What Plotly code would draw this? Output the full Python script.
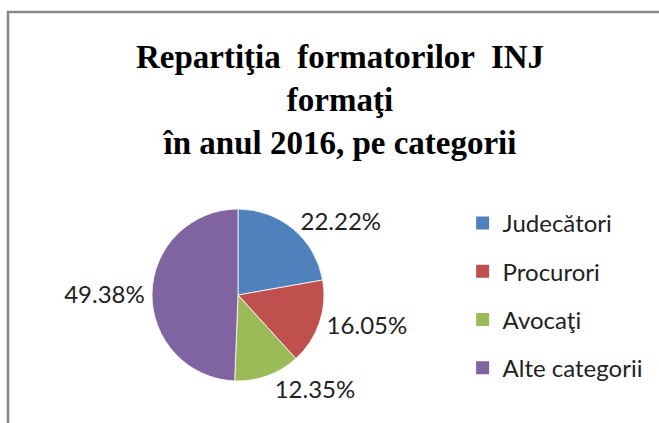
import plotly.graph_objects as go

# Data
categories = ['Judecători', 'Procurori', 'Avocaţi', 'Alte categorii']
shares = [22.22, 16.05, 12.35, 49.38]
colors = ['#4F81BD', '#C0504D', '#9BBB59', '#8064A2']

title_text = 'Repartiţia  formatorilor  INJ<br>formaţi<br>în anul 2016, pe categorii'

fig = go.Figure()

fig.add_trace(go.Pie(
    labels=categories,
    values=shares,
    sort=False,
    direction='clockwise',
    rotation=0,
    marker=dict(colors=colors, line=dict(color='white', width=0.8)),
    textposition='outside',
    texttemplate='%{percent:.2%}',
    textfont=dict(family='Lato', size=24, color='#222222'),
    domain=dict(x=[152 / 659, 324 / 659], y=[1 - 381 / 423, 1 - 209 / 423]),
    showlegend=False,
    hoverinfo='label+percent',
))

# legend entries (one per category so the rows can be spaced out)
for name, col in zip(categories, colors):
    fig.add_trace(go.Scatter(
        x=[None], y=[None], mode='markers', name=name, legendgroup=name,
        marker=dict(symbol='square', size=13, color=col),
    ))

fig.update_layout(
    width=659, height=423,
    margin=dict(l=0, r=0, t=0, b=0),
    paper_bgcolor='white', plot_bgcolor='white',
    xaxis=dict(visible=False), yaxis=dict(visible=False),
    title=dict(
        text=title_text, x=340 / 659, xanchor='center',
        y=1 - 68 / 423, yanchor='top', yref='paper',
        font=dict(family='Liberation Serif', size=33, color='black', weight='bold'),
    ),
    legend=dict(
        x=0.702, xanchor='left', y=1 - 201 / 423, yanchor='top',
        font=dict(family='Lato', size=24, color='#222222'),
        tracegroupgap=14, bgcolor='rgba(0,0,0,0)',
    ),
    shapes=[dict(
        type='rect', xref='paper', yref='paper',
        x0=8 / 659, x1=1.2, y0=-0.2, y1=1 - 12 / 423,
        line=dict(color='#868686', width=2.5), layer='above',
    )],
)

fig.write_html('out.html', config={'displayModeBar': False},
               post_script="document.body.style.margin='0';")
